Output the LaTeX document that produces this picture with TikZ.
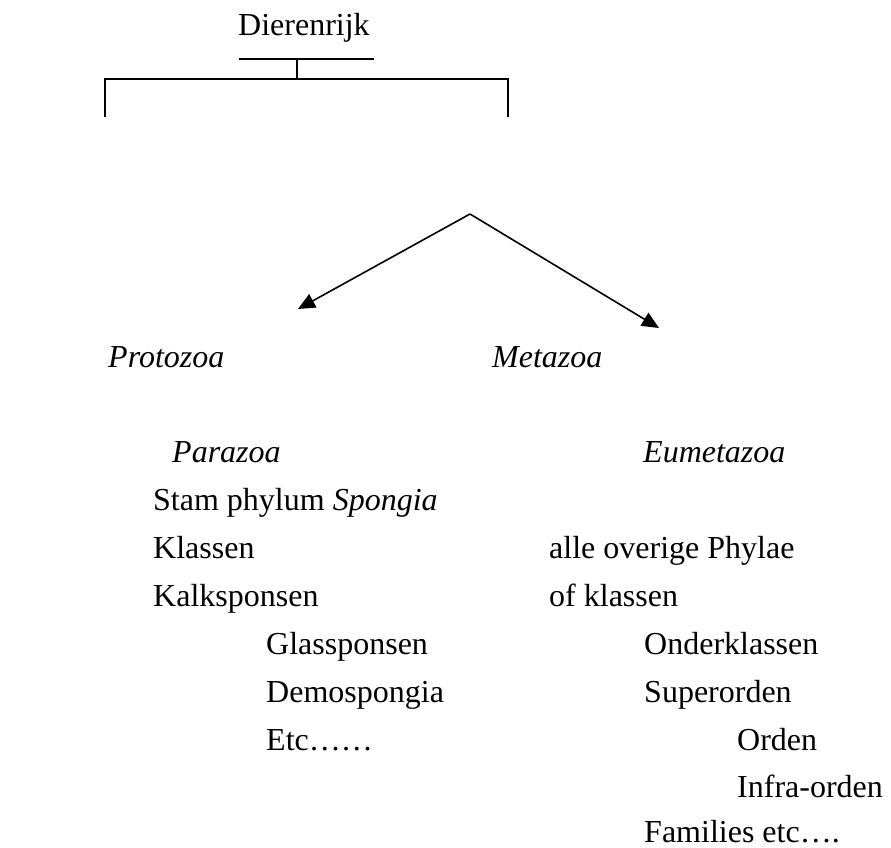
\documentclass[tikz,border=0pt]{standalone}
\usepackage{fontspec}
\setmainfont{Liberation Serif}
\usetikzlibrary{arrows.meta}
\begin{document}
\begin{tikzpicture}[x=1pt,y=-1pt,
  lbl/.style={anchor=base west,inner sep=0pt,font=\fontsize{32}{38}\selectfont},
  ilbl/.style={lbl,font=\fontsize{32}{38}\selectfont\itshape},
  ln/.style={line width=1.6pt},
  arr/.style={ln,-{Triangle[length=17pt,width=15pt]}}]
\useasboundingbox (0,0) rectangle (891,848);
% title and bracket
\node[lbl] (dier) at (238,36) {Dierenrijk};
\coordinate (barL) at (239,59);
\coordinate (barR) at (374,59);
\coordinate (stemT) at (297,59);
\coordinate (stemB) at (297,79);
\coordinate (brL) at (105,79);
\coordinate (brR) at (508,79);
\coordinate (brLd) at (105,117);
\coordinate (brRd) at (508,117);
\draw[ln] (barL) -- (barR);
\draw[ln] (stemT) -- (stemB);
\draw[ln] (brLd) -- (brL) -- (brR) -- (brRd);
% arrows
\coordinate (apex) at (470,214);
\coordinate (tipL) at (298,309);
\coordinate (tipR) at (659,328);
\draw[arr] (apex) -- (tipL);
\draw[arr] (apex) -- (tipR);
% level 1
\node[ilbl] (proto) at (108,367) {Protozoa};
\node[ilbl] (meta) at (492,367) {Metazoa};
% level 2
\node[ilbl] (para) at (172,462) {Parazoa};
\node[ilbl] (eume) at (643,462) {Eumetazoa};
% left column
\node[lbl] (stam) at (153,510) {Stam phylum \textit{Spongia}};
\node[lbl] (klas) at (153,558) {Klassen};
\node[lbl] (kalk) at (153,606) {Kalksponsen};
\node[lbl] (glas) at (266,654) {Glassponsen};
\node[lbl] (demo) at (266,702) {Demospongia};
\node[lbl] (etc) at (266,750) {Etc……};
% right column
\node[lbl] (alle) at (549,558) {alle overige Phylae};
\node[lbl] (ofkl) at (549,606) {of klassen};
\node[lbl] (onde) at (644,654) {Onderklassen};
\node[lbl] (supe) at (644,702) {Superorden};
\node[lbl] (orde) at (737,750) {Orden};
\node[lbl] (infr) at (737,797) {Infra-orden};
\node[lbl] (fami) at (644,842) {Families etc….};
\end{tikzpicture}
\end{document}
